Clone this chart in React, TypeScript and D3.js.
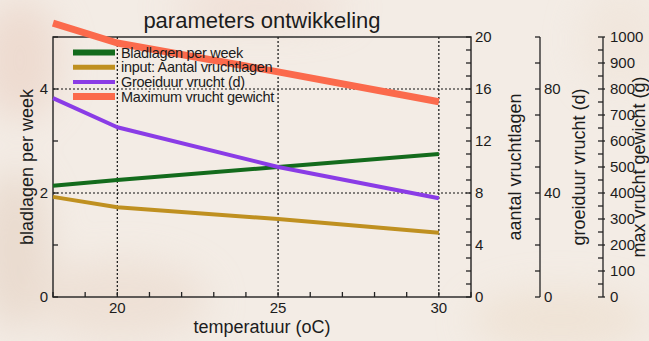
import React from "react";
import * as d3 from "d3";

// Temperatures (°C) at which the parameters were evaluated
const temps = [18, 20, 25, 30];
// Bladlagen per week (left axis)
const bladlagen = [2.14, 2.25, 2.5, 2.75];
// input: Aantal vruchtlagen (first right axis)
const vruchtlagen = [7.7, 6.9, 6.0, 4.95];
// Groeiduur vrucht in dagen (second right axis)
const groeiduur = [76.5, 65.3, 50, 38];
// Maximum vrucht gewicht in gram (third right axis)
const maxGewicht = [1053, 977, 866, 751];

const xTickLabels = [20, 25, 30];
const leftTickLabels = [0, 2, 4];
const axis1Labels = [0, 4, 8, 12, 16, 20];
const axis2Labels = [0, 40, 80];
const axis3Labels = [0, 100, 200, 300, 400, 500, 600, 700, 800, 900, 1000];

const W = 649;
const H = 341;
const L = 53;
const R = 471;
const T = 37;
const B = 297;
const AX2 = 540;
const AX3 = 603;

const FONT = "'Liberation Sans', Arial, Helvetica, sans-serif";
const INK = "#1c1c1c";

const x = d3.scaleLinear().domain([18, 31]).range([L, R]);
const yLeft = d3.scaleLinear().domain([0, 5]).range([B, T]);
const y1 = d3.scaleLinear().domain([0, 20]).range([B, T]);
const y2 = d3.scaleLinear().domain([0, 100]).range([B, T]);
const y3 = d3.scaleLinear().domain([0, 1000]).range([B, T]);

type Series = {
  name: string;
  values: number[];
  scale: d3.ScaleLinear<number, number>;
  color: string;
  width: number;
  legendWidth: number;
};

const series: Series[] = [
  { name: "Bladlagen per week", values: bladlagen, scale: yLeft, color: "#136b1c", width: 4, legendWidth: 6 },
  { name: "input: Aantal vruchtlagen", values: vruchtlagen, scale: y1, color: "#bf9020", width: 4, legendWidth: 5 },
  { name: "Groeiduur vrucht (d)", values: groeiduur, scale: y2, color: "#8a3ce6", width: 4, legendWidth: 4 },
  { name: "Maximum vrucht gewicht", values: maxGewicht, scale: y3, color: "#fb6a4c", width: 7, legendWidth: 7 },
];

function linePath(s: Series): string {
  const gen = d3
    .line<number>()
    .x((_, i) => x(temps[i]))
    .y((v) => s.scale(v));
  return gen(s.values) || "";
}

function Background() {
  return (
    <g>
      <defs>
        <filter id="soft" x="-50%" y="-50%" width="200%" height="200%">
          <feGaussianBlur stdDeviation="18" />
        </filter>
      </defs>
      <rect x={0} y={0} width={W} height={H} fill="#f3ece5" />
      <g filter="url(#soft)" opacity={0.55}>
        <ellipse cx={20} cy={60} rx={40} ry={60} fill="#e9cdbf" />
        <ellipse cx={15} cy={250} rx={35} ry={80} fill="#e2cdbd" />
        <ellipse cx={120} cy={300} rx={90} ry={40} fill="#ead8ca" />
        <ellipse cx={260} cy={8} rx={90} ry={18} fill="#ecd3c8" />
        <ellipse cx={560} cy={320} rx={90} ry={30} fill="#ecdcc9" />
        <ellipse cx={620} cy={40} rx={40} ry={50} fill="#efe2d6" />
      </g>
    </g>
  );
}

export default function App() {
  const minorX = d3.range(18, 32, 1);
  const leftTicks = d3.range(0, 6, 1);
  const axis1Ticks = d3.range(0, 21, 1);
  const axis2Ticks = d3.range(0, 101, 10);
  const axis3Ticks = d3.range(0, 1001, 50);

  return (
    <svg
      width={W}
      height={H}
      viewBox={`0 0 ${W} ${H}`}
      style={{ position: "absolute", left: 0, top: 0, display: "block" }}
      fontFamily={FONT}
    >
      <Background />

      {/* title */}
      <text x={(L + R) / 2} y={28} textAnchor="middle" fontSize={22} fill={INK}>
        parameters ontwikkeling
      </text>

      {/* dotted grid */}
      <g stroke="#111" strokeWidth={1.2} strokeDasharray="2,2">
        {xTickLabels.map((t) => (
          <line key={`gx${t}`} x1={x(t)} x2={x(t)} y1={T} y2={B} />
        ))}
        {[2, 4].map((t) => (
          <line key={`gy${t}`} x1={L} x2={R} y1={yLeft(t)} y2={yLeft(t)} />
        ))}
      </g>

      {/* plot frame */}
      <rect x={L} y={T} width={R - L} height={B - T} fill="none" stroke="#222" strokeWidth={1.4} />

      {/* x axis ticks */}
      <g stroke="#222" strokeWidth={1.3}>
        {minorX.map((t) => (
          <line key={`xt${t}`} x1={x(t)} x2={x(t)} y1={B} y2={B - 5} />
        ))}
      </g>
      <g fontSize={15} fill={INK} textAnchor="middle">
        {xTickLabels.map((t) => (
          <text key={`xl${t}`} x={x(t)} y={313}>
            {t}
          </text>
        ))}
      </g>
      <text x={(L + R) / 2} y={333} textAnchor="middle" fontSize={18} fill={INK}>
        temperatuur (oC)
      </text>

      {/* left axis */}
      <g stroke="#222" strokeWidth={1.3}>
        {leftTicks.map((t) => (
          <line key={`lt${t}`} x1={L} x2={L + 5} y1={yLeft(t)} y2={yLeft(t)} />
        ))}
      </g>
      <g fontSize={15} fill={INK} textAnchor="end">
        {leftTickLabels.map((t) => (
          <text key={`ll${t}`} x={48} y={yLeft(t)} dy="0.36em">
            {t}
          </text>
        ))}
      </g>
      <text
        transform={`translate(33,${(T + B) / 2}) rotate(-90)`}
        textAnchor="middle"
        fontSize={18}
        fill={INK}
      >
        bladlagen per week
      </text>

      {/* right axis 1: aantal vruchtlagen */}
      <g stroke="#222" strokeWidth={1.3}>
        {axis1Ticks.map((t) => (
          <line key={`a1${t}`} x1={R} x2={R - 5} y1={y1(t)} y2={y1(t)} />
        ))}
      </g>
      <g fontSize={15} fill={INK}>
        {axis1Labels.map((t) => (
          <text key={`a1l${t}`} x={475} y={y1(t)} dy="0.36em">
            {t}
          </text>
        ))}
      </g>
      <text
        transform={`translate(521,${(T + B) / 2}) rotate(-90)`}
        textAnchor="middle"
        fontSize={18}
        fill={INK}
      >
        aantal vruchtlagen
      </text>

      {/* right axis 2: groeiduur vrucht */}
      <line x1={AX2} x2={AX2} y1={T} y2={B} stroke="#222" strokeWidth={1.3} />
      <g stroke="#222" strokeWidth={1.3}>
        {axis2Ticks.map((t) => (
          <line key={`a2${t}`} x1={AX2} x2={AX2 - 5} y1={y2(t)} y2={y2(t)} />
        ))}
      </g>
      <g fontSize={15} fill={INK}>
        {axis2Labels.map((t) => (
          <text key={`a2l${t}`} x={544} y={y2(t)} dy="0.36em">
            {t}
          </text>
        ))}
      </g>
      <text
        transform={`translate(585,${(T + B) / 2}) rotate(-90)`}
        textAnchor="middle"
        fontSize={18}
        fill={INK}
      >
        groeiduur vrucht (d)
      </text>

      {/* right axis 3: max vrucht gewicht */}
      <line x1={AX3} x2={AX3} y1={T} y2={B} stroke="#222" strokeWidth={1.3} />
      <g stroke="#222" strokeWidth={1.3}>
        {axis3Ticks.map((t) => (
          <line
            key={`a3${t}`}
            x1={t % 100 === 0 ? AX3 + 2 : AX3}
            x2={AX3 - 5}
            y1={y3(t)}
            y2={y3(t)}
          />
        ))}
      </g>
      <g fontSize={15} fill={INK}>
        {axis3Labels.map((t) => (
          <text key={`a3l${t}`} x={610} y={y3(t)} dy="0.36em">
            {t}
          </text>
        ))}
      </g>
      <text
        transform={`translate(645,${(T + B) / 2}) rotate(-90)`}
        textAnchor="middle"
        fontSize={18}
        fill={INK}
      >
        max vrucht gewicht (g)
      </text>

      {/* data lines */}
      <g fill="none" strokeLinejoin="round" strokeLinecap="butt">
        {series.map((s) => (
          <path key={s.name} d={linePath(s)} stroke={s.color} strokeWidth={s.width} />
        ))}
      </g>

      {/* legend */}
      <g>
        {series.map((s, i) => {
          const yy = 52.5 + i * 14.7;
          return (
            <g key={`lg${s.name}`}>
              <line x1={73} x2={115} y1={yy} y2={yy} stroke={s.color} strokeWidth={s.legendWidth} />
              <text x={121} y={yy} dy="0.36em" fontSize={14.5} fill={INK} letterSpacing={-0.3}>
                {s.name}
              </text>
            </g>
          );
        })}
      </g>
    </svg>
  );
}
